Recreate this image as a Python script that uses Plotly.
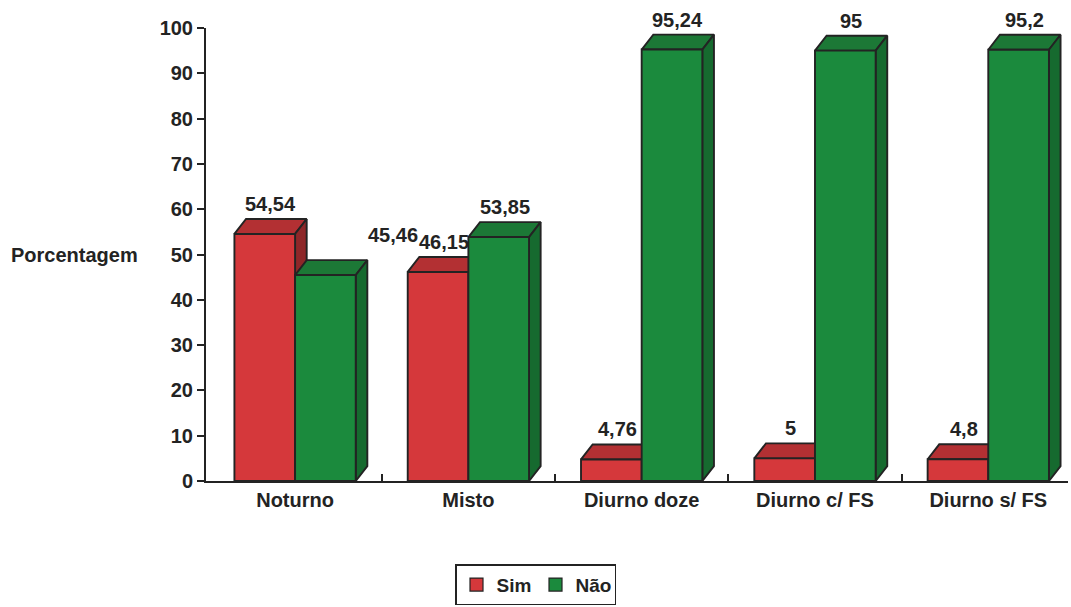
import plotly.graph_objects as go

# Shift-type categories and the share of answers (%)
categories = ["Noturno", "Misto", "Diurno doze", "Diurno c/ FS", "Diurno s/ FS"]
sim = [54.54, 46.15, 4.76, 5, 4.8]
nao = [45.46, 53.85, 95.24, 95, 95.2]
y_ticks = [0, 10, 20, 30, 40, 50, 60, 70, 80, 90, 100]

FONT = "Liberation Sans, Arial, sans-serif"
INK = "#232323"

# Pseudo-3D geometry (in axis units)
BAR_W = 0.35
DX = 0.067
DY = 3.3

series = [
    dict(name="Sim", values=sim, offset=-BAR_W,
         front="#d5383b", top="#b33033", side="#8e2729"),
    dict(name="Não", values=nao, offset=0.0,
         front="#1b8a3d", top="#1c7836", side="#166a2f"),
]


def polys(values, offset, kind):
    xs, ys = [], []
    for i, v in enumerate(values):
        x0 = i + offset
        x1 = x0 + BAR_W
        if kind == "front":
            px = [x0, x1, x1, x0, x0]
            py = [0, 0, v, v, 0]
        elif kind == "top":
            px = [x0, x1, x1 + DX, x0 + DX, x0]
            py = [v, v, v + DY, v + DY, v]
        else:  # side
            px = [x1, x1 + DX, x1 + DX, x1, x1]
            py = [0, DY, v + DY, v, 0]
        xs += px + [None]
        ys += py + [None]
    return xs, ys


fig = go.Figure()
for s in series:
    for kind in ("top", "side", "front"):
        xs, ys = polys(s["values"], s["offset"], kind)
        fig.add_trace(go.Scatter(
            x=xs, y=ys, mode="lines", fill="toself",
            fillcolor=s[kind], line=dict(color=INK, width=1.9),
            name=s["name"], showlegend=False, hoverinfo="skip",
        ))

# Legend entries: small filled squares
for s in series:
    fig.add_trace(go.Scatter(
        x=[None], y=[None], mode="markers", name=s["name"],
        marker=dict(symbol="square", size=13, color=s["front"],
                    line=dict(color=INK, width=1.2)),
    ))


def fmt(v):
    return f"{v:g}".replace(".", ",")


# Value labels above each bar
for s in series:
    for i, v in enumerate(s["values"]):
        xshift, yshift = 0, 2
        if s["name"] == "Não" and i == 0:
            xshift, yshift = 62, 12
        fig.add_annotation(
            x=i + s["offset"] + BAR_W / 2 + DX / 2, y=v + DY,
            text=fmt(v), showarrow=False, yanchor="bottom",
            yshift=yshift, xshift=xshift,
            font=dict(family=FONT, size=20, color=INK, weight="bold"),
        )

fig.add_annotation(
    xref="paper", yref="paper", x=-0.228, y=0.5, xanchor="left",
    text="Porcentagem", showarrow=False,
    font=dict(family=FONT, size=20, color=INK, weight="bold"),
)

fig.update_layout(
    width=1071, height=607,
    margin=dict(l=206, r=3, t=28, b=126),
    paper_bgcolor="white", plot_bgcolor="white",
    showlegend=True,
    legend=dict(
        orientation="h", xref="container", yref="container",
        x=0.5, xanchor="center", y=0.003, yanchor="bottom",
        bordercolor=INK, borderwidth=1.5,
        font=dict(family=FONT, size=19, color=INK, weight="bold"),
        itemwidth=30, tracegroupgap=0, entrywidth=34,
    ),
    xaxis=dict(
        range=[-0.514, 4.46],
        tickmode="array", tickvals=list(range(len(categories))),
        ticktext=categories, ticks="",
        tickfont=dict(family=FONT, size=20, color=INK, weight="bold"),
        showline=True, linecolor=INK, linewidth=2,
        showgrid=False, zeroline=False,
        minor=dict(tickmode="array",
                   tickvals=[i + 0.5 for i in range(len(categories) - 1)],
                   ticks="inside", ticklen=7, tickwidth=1.5, tickcolor=INK,
                   showgrid=False),
    ),
    yaxis=dict(
        range=[0, 100], tickmode="array", tickvals=y_ticks,
        ticks="outside", ticklen=7, tickwidth=1.5, tickcolor=INK,
        tickfont=dict(family=FONT, size=20, color=INK, weight="bold"),
        showline=True, linecolor=INK, linewidth=2,
        showgrid=False, zeroline=False,
    ),
)

fig.write_html("out.html")
